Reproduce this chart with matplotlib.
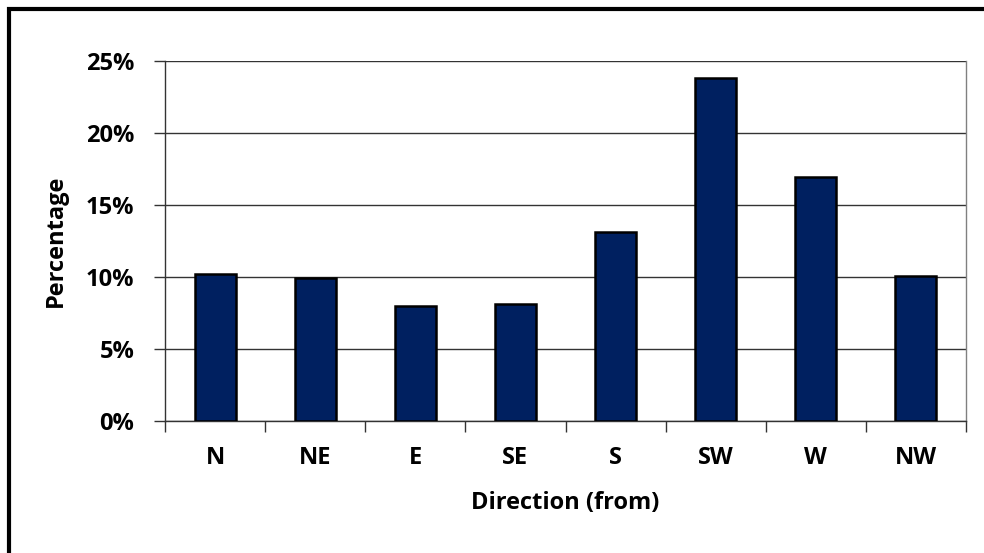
import matplotlib
matplotlib.use("Agg")
import matplotlib.pyplot as plt
from matplotlib.patches import Rectangle
from matplotlib.ticker import FixedLocator, PercentFormatter

directions = ["N", "NE", "E", "SE", "S", "SW", "W", "NW"]
percentages = [10.2, 9.93, 7.99, 8.1, 13.1, 23.84, 16.94, 10.1]
y_ticks = [0, 5, 10, 15, 20, 25]

plt.rcParams['font.family'] = ['Open Sans', 'DejaVu Sans']
plt.rcParams['font.weight'] = 'bold'
FS = 17

fig = plt.figure(figsize=(9.84, 5.53), dpi=100)
ax = fig.add_axes([165/984, 1-421/553, (966-165)/984, (421-61)/553])

x = list(range(len(directions)))
ax.bar(x, percentages, width=0.41, color="#002060", edgecolor="black", linewidth=1.8, zorder=3)

ax.set_xlim(-0.5, len(directions) - 0.5)
ax.set_ylim(0, 25)
ax.set_yticks(y_ticks)
ax.yaxis.set_major_formatter(PercentFormatter(decimals=0))
ax.yaxis.grid(True, color="#333333", linewidth=1.0, zorder=0)

ax.set_xticks(x)
ax.set_xticklabels(directions)
ax.xaxis.set_minor_locator(FixedLocator([i - 0.5 for i in range(len(directions) + 1)]))
ax.tick_params(axis="x", which="major", length=0, pad=18, labelsize=FS)
ax.tick_params(axis="x", which="minor", length=8, width=1, direction="out", color="#333333")
ax.tick_params(axis="y", length=8, width=1, direction="out", color="#333333", labelsize=FS, pad=14)

for lbl in ax.get_xticklabels() + ax.get_yticklabels():
    lbl.set_fontweight("bold")

ax.spines["top"].set_visible(False)
ax.spines["right"].set_color("#808080")
ax.spines["left"].set_color("#333333")
ax.spines["bottom"].set_color("#333333")
for s in ax.spines.values():
    s.set_linewidth(1.0)

ax.set_xlabel("Direction (from)", fontsize=FS, fontweight="bold", labelpad=15)
ax.set_ylabel("Percentage", fontsize=FS, fontweight="bold", labelpad=13)

fig.patches.append(Rectangle((9/984, -0.1), 1.2, 1 - 9/553 + 0.1, transform=fig.transFigure,
                             fill=False, edgecolor="black", linewidth=3))

fig.savefig("out.png", dpi=100)
